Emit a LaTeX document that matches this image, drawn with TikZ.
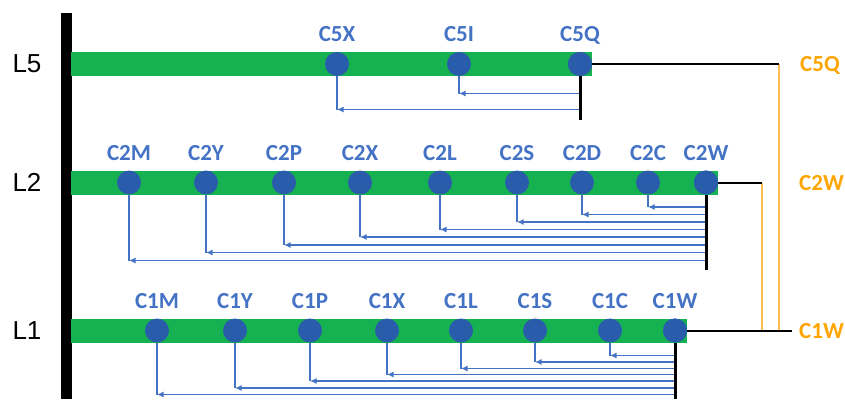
\documentclass[tikz,border=0pt]{standalone}
\usepackage{fontspec}
\setmainfont{Liberation Sans}
\newfontfamily\tagfont{Carlito}
\usetikzlibrary{arrows.meta}

\definecolor{railgreen}{RGB}{22,177,80}
\definecolor{stopblue}{RGB}{41,92,170}
\definecolor{linkblue}{RGB}{68,114,196}
\definecolor{tieorange}{RGB}{255,165,0}
\definecolor{tieline}{RGB}{255,188,80}

\tikzset{
  rail/.style={fill=railgreen, draw=none},
  stop/.style={circle, fill=stopblue, minimum size=24pt, inner sep=0pt},
  stoplabel/.style={text=linkblue, font=\tagfont\bfseries\fontsize{23}{23}\selectfont,
                    anchor=base, inner sep=0pt},
  linelabel/.style={font=\fontsize{26}{26}\selectfont, inner sep=0pt},
  tielabel/.style={text=tieorange, font=\tagfont\bfseries\fontsize{23}{23}\selectfont,
                   anchor=base west, inner sep=0pt},
  feed/.style={draw=linkblue, line width=1.8pt, -{Latex[length=6.5pt,width=6pt]}},
  link/.style={draw=linkblue, line width=1.8pt},
  trunk/.style={draw=black, line width=3pt},
  tie/.style={draw=black, line width=2pt},
  tievert/.style={draw=tieline, line width=1.8pt},
}

\begin{document}
\begin{tikzpicture}[x=1pt,y=-1pt]
\useasboundingbox (0,0) rectangle (845,399);

% main vertical bus
\fill[black] (61,13) rectangle (72,399);

% line names
\node[linelabel] (l5) at (27,64) {L5};
\node[linelabel] (l2) at (27,182.5) {L2};
\node[linelabel] (l1) at (27,330.5) {L1};

% green rails
\fill[rail] (71,52) rectangle (592,76);
\fill[rail] (71,170.5) rectangle (718,194.5);
\fill[rail] (71,318.5) rectangle (687,342.5);

% ---------- L5 ----------
\node[stop] (c5q) at (580,64) {};
\node[stoplabel] (t5q) at (580,41.5) {C5Q};
\coordinate (e5) at (580,120);
\foreach \n/\x/\lab/\yy in {x/337/C5X/109.5, i/459/C5I/93.5} {
  \node[stop] (c5\n) at (\x,64) {};
  \node[stoplabel] (t5\n) at (\x,41.5) {\lab};
  \coordinate (k5\n) at (\x,\yy);
  \draw[feed] (e5 |- k5\n) -- (k5\n);
  \draw[link] (k5\n) -- (c5\n);
}
\draw[trunk] (c5q.center) ++(0,12) -- (e5);
\node[stop] at (c5q) {};

% ---------- L2 ----------
\node[stop] (c2w) at (706,182.5) {};
\node[stoplabel] (t2w) at (706,160) {C2W};
\coordinate (e2) at (706,270);
\foreach \n/\x/\lab/\yy in {m/129/C2M/260.5, y/206/C2Y/252.5, p/284/C2P/245,
                            x/360/C2X/237, l/440/C2L/229.5, s/517/C2S/222,
                            d/582/C2D/214.5, c/648/C2C/207} {
  \node[stop] (c2\n) at (\x,182.5) {};
  \node[stoplabel] (t2\n) at (\x,160) {\lab};
  \coordinate (k2\n) at (\x,\yy);
  \draw[feed] (e2 |- k2\n) -- (k2\n);
  \draw[link] (k2\n) -- (c2\n);
}
\draw[trunk] (c2w.center) ++(0,12) -- (e2);
\node[stop] at (c2w) {};

% ---------- L1 ----------
\node[stop] (c1w) at (675,330.5) {};
\node[stoplabel] (t1w) at (675,308) {C1W};
\coordinate (e1) at (675,399);
\foreach \n/\x/\lab/\yy in {m/157/C1M/394.5, y/235/C1Y/388, p/310/C1P/381,
                            x/387/C1X/374.5, l/461/C1L/368.5, s/535/C1S/362,
                            c/610/C1C/355.5} {
  \node[stop] (c1\n) at (\x,330.5) {};
  \node[stoplabel] (t1\n) at (\x,308) {\lab};
  \coordinate (k1\n) at (\x,\yy);
  \draw[feed] (e1 |- k1\n) -- (k1\n);
  \draw[link] (k1\n) -- (c1\n);
}
\draw[trunk] (c1w.center) ++(0,12) -- (e1);
\node[stop] at (c1w) {};

% ---------- ties on the right ----------
\coordinate (j5) at (779,64);
\coordinate (j2) at (762,182.5);
\coordinate (j1) at (792,330.5);
\draw[tievert] (j5) -- (j5 |- c1w);
\draw[tievert] (j2) -- (j2 |- c1w);
\draw[tie] (c5q.east) -- (j5);
\draw[tie] (c2w.east) -- (j2);
\draw[tie] (c1w.east) -- (j1);

\node[tielabel] (o5) at (800,71.5) {C5Q};
\node[tielabel] (o2) at (799,190.5) {C2W};
\node[tielabel] (o1) at (799,338.5) {C1W};
\end{tikzpicture}
\end{document}
